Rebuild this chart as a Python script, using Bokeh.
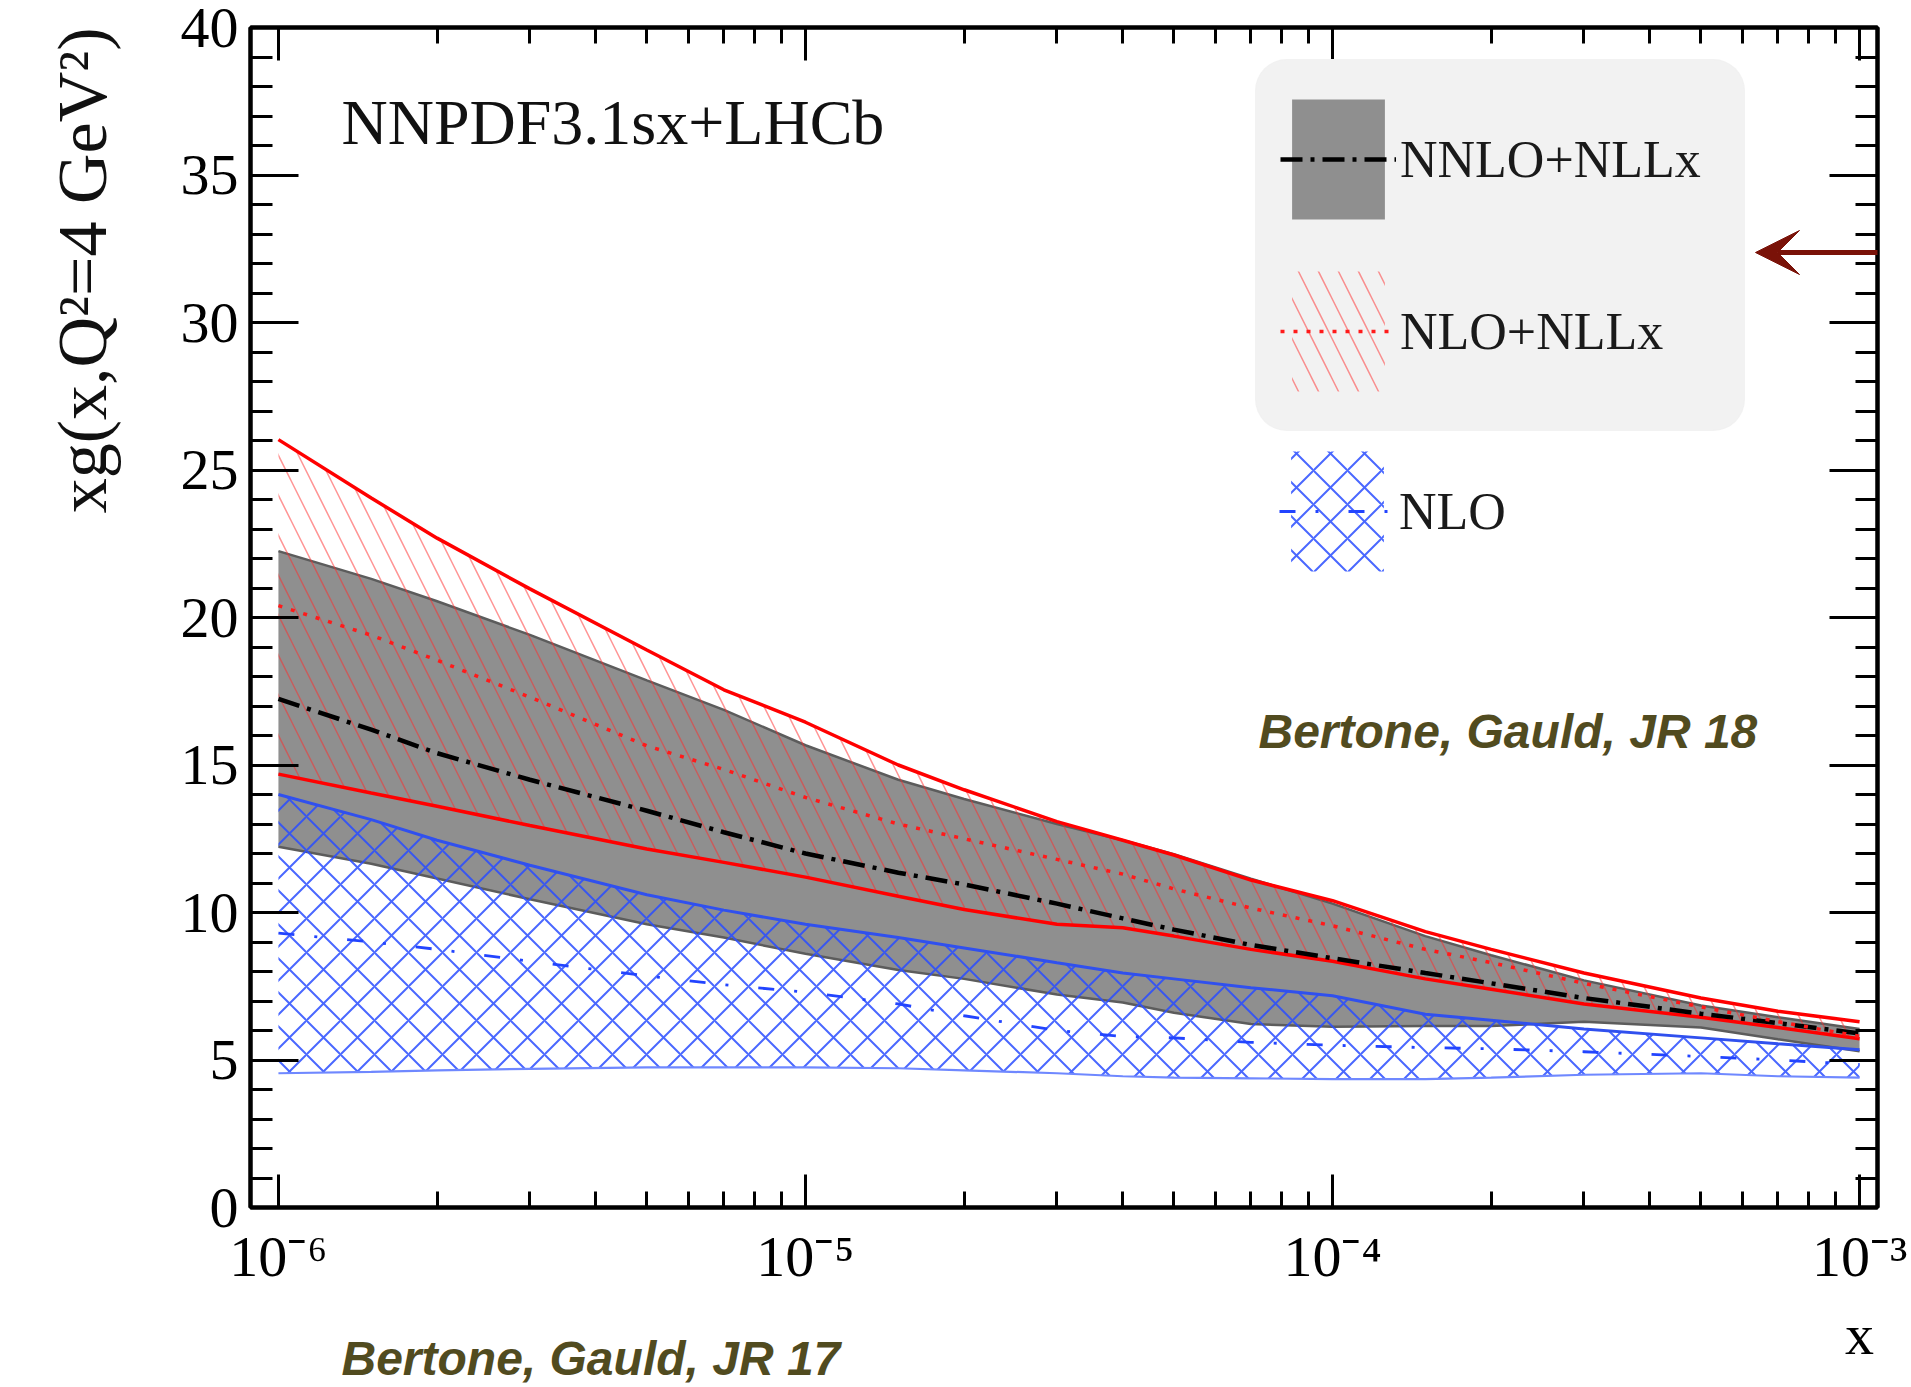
import math
from bokeh.plotting import figure
from bokeh.models import (Range1d, LinearAxis, LogAxis, FixedTicker, SingleIntervalTicker,
                          CustomJSTickFormatter, Label, Legend, LegendItem, Arrow, VeeHead, Title)
from bokeh.embed import file_html
from bokeh.resources import INLINE

# ---------------- data ----------------
x = [1e-6, 1.5e-6, 2e-6, 3e-6, 5e-6, 7e-6, 1e-5, 1.5e-5, 2e-5, 3e-5,
     4e-5, 5e-5, 7e-5, 1e-4, 1.5e-4, 2e-4, 3e-4, 5e-4, 7e-4, 1e-3]

# NNLO+NLLx (grey band, black dash-dot central)
nnlo_nllx_central = [17.24, 16.2, 15.4, 14.5, 13.45, 12.72, 12.0, 11.35, 10.95, 10.3,
                     9.8, 9.42, 8.9, 8.45, 7.95, 7.6, 7.1, 6.57, 6.25, 5.9]
nnlo_nllx_upper = [22.25, 21.31, 20.55, 19.41, 17.87, 16.87, 15.67, 14.5, 13.85, 13.0,
                   12.45, 11.98, 11.15, 10.3, 9.2, 8.55, 7.7, 6.85, 6.45, 6.05]
nnlo_nllx_lower = [12.23, 11.65, 11.15, 10.45, 9.6, 9.15, 8.6, 8.05, 7.75, 7.22,
                   6.95, 6.6, 6.22, 6.13, 6.15, 6.15, 6.3, 6.1, 5.7, 5.3]

# NLO+NLLx (red hatched band, red dotted central)
nlo_nllx_central = [20.4, 19.4, 18.55, 17.3, 15.65, 14.85, 13.9, 13.0, 12.5, 11.8,
                    11.3, 10.8, 10.15, 9.55, 8.75, 8.3, 7.6, 6.8, 6.3, 5.8]
nlo_nllx_upper = [26.03, 24.05, 22.69, 20.97, 18.9, 17.55, 16.45, 15.0, 14.16, 13.08,
                  12.45, 11.95, 11.1, 10.4, 9.35, 8.75, 7.95, 7.1, 6.65, 6.3]
nlo_nllx_lower = [14.69, 14.05, 13.6, 12.95, 12.15, 11.7, 11.2, 10.55, 10.1, 9.6,
                  9.48, 9.2, 8.75, 8.35, 7.75, 7.4, 6.9, 6.45, 6.1, 5.72]

# NLO (blue cross-hatched band, blue dash-dot-dot central)
nlo_central = [9.3, 9.0, 8.75, 8.35, 7.85, 7.55, 7.3, 6.9, 6.5, 6.0,
               5.8, 5.75, 5.6, 5.5, 5.42, 5.38, 5.28, 5.12, 5.0, 4.85]
nlo_upper = [14.0, 13.15, 12.45, 11.6, 10.6, 10.08, 9.6, 9.15, 8.8, 8.3,
             7.95, 7.75, 7.45, 7.18, 6.55, 6.35, 6.05, 5.75, 5.55, 5.35]
nlo_lower = [4.55, 4.6, 4.65, 4.7, 4.75, 4.75, 4.75, 4.72, 4.65, 4.55,
             4.45, 4.4, 4.38, 4.35, 4.35, 4.4, 4.5, 4.55, 4.45, 4.4]

x_major_ticks = [1e-6, 1e-5, 1e-4, 1e-3]
x_tick_exponents = [-6, -5, -4, -3]
x_tick_labels = ["10\u207b\u2076", "10\u207b\u2075", "10\u207b\u2074", "10\u207b\u00b3"]
x_axis_title = "x"
y_axis_title = "xg(x,Q\u00b2=4 GeV\u00b2)"
series_labels = ["NNLO+NLLx", "NLO+NLLx", "NLO"]

# ---------------- figure ----------------
SERIF = "Liberation Serif"
p = figure(width=1911, height=1387, x_axis_type="log",
           x_range=Range1d(10 ** -6.053, 10 ** -2.966), y_range=Range1d(0, 40),
           output_backend="svg", toolbar_location=None,
           min_border_left=250, min_border_right=34, min_border_top=27, min_border_bottom=180)
p.xgrid.visible = False
p.ygrid.visible = False
p.outline_line_color = "black"
p.outline_line_width = 4
p.background_fill_color = "white"
p.border_fill_color = "white"

x_minor_ticks = [m * d for d in x_major_ticks[:-1] for m in range(2, 10)]

# last major label carries the axis title "x" on a second line (right end, below)
fmt_x = CustomJSTickFormatter(
    args=dict(exps=x_tick_exponents, labels=x_tick_labels, title=x_axis_title),
    code="const i = exps.indexOf(Math.round(Math.log10(tick)));"
         "if (i < 0) return '';"
         "return i == labels.length - 1 ? labels[i] + '\\n' + title : labels[i];")
fmt_blank = CustomJSTickFormatter(code="return '';")


def style_x(ax, labelled):
    ax.ticker = FixedTicker(ticks=x_major_ticks, minor_ticks=x_minor_ticks)
    ax.major_tick_in = 33
    ax.major_tick_out = 0
    ax.minor_tick_in = 16
    ax.minor_tick_out = 0
    ax.major_tick_line_width = 3
    ax.minor_tick_line_width = 3
    ax.axis_line_width = 4
    if labelled:
        ax.formatter = fmt_x
        ax.major_label_text_font = SERIF
        ax.major_label_text_font_size = "58px"
        ax.major_label_text_color = "black"
        ax.major_label_standoff = 16
    else:
        ax.formatter = fmt_blank
        ax.major_label_text_font_size = "0px"
        ax.major_label_standoff = 0


def style_y(ax, labelled):
    ax.ticker = SingleIntervalTicker(interval=5, num_minor_ticks=5)
    ax.major_tick_in = 48
    ax.major_tick_out = 0
    ax.minor_tick_in = 22
    ax.minor_tick_out = 0
    ax.major_tick_line_width = 3
    ax.minor_tick_line_width = 3
    ax.axis_line_width = 4
    if labelled:
        ax.major_label_text_font = SERIF
        ax.major_label_text_font_size = "58px"
        ax.major_label_text_color = "black"
        ax.major_label_standoff = 12
    else:
        ax.formatter = fmt_blank
        ax.major_label_text_font_size = "0px"
        ax.major_label_standoff = 0


style_x(p.xaxis[0], True)
style_y(p.yaxis[0], True)
top_axis = LogAxis()
style_x(top_axis, False)
p.add_layout(top_axis, "above")
right_axis = LinearAxis()
style_y(right_axis, False)
p.add_layout(right_axis, "right")

# y axis title on a bare outer left axis, anchored toward the top end
title_axis = LinearAxis(ticker=FixedTicker(ticks=[]),
                        formatter=fmt_blank, axis_line_color=None,
                        major_tick_line_color=None, minor_tick_line_color=None,
                        major_tick_in=0, major_tick_out=0, minor_tick_in=0, minor_tick_out=0,
                        major_label_text_font_size="0px", major_label_standoff=0,
                        axis_label=y_axis_title, axis_label_standoff=95,
                        axis_label_text_font=SERIF, axis_label_text_font_style="normal",
                        axis_label_text_font_size="70px", axis_label_text_color="#111111")
title_axis.axis_label_orientation = math.pi / 2
try:
    title_axis.axis_label_align = "end"
except Exception:
    pass
p.add_layout(title_axis, "left")

# ---------------- bands and lines ----------------
grey_band = p.varea(x=x, y1=nnlo_nllx_lower, y2=nnlo_nllx_upper,
                    fill_color="#8f8f8f", fill_alpha=1.0)
p.line(x, nnlo_nllx_upper, line_color="#5c5c5c", line_width=2.5)
p.line(x, nnlo_nllx_lower, line_color="#5c5c5c", line_width=2.5)

blue_band = p.varea(x=x, y1=nlo_lower, y2=nlo_upper, fill_alpha=0,
                    hatch_pattern="x", hatch_color="#2a4dff", hatch_alpha=0.85,
                    hatch_weight=2.0, hatch_scale=34)
p.line(x, nlo_upper, line_color="#3050ee", line_width=3)
p.line(x, nlo_lower, line_color="#6f88ff", line_width=2.2)

red_band = p.varea(x=x, y1=nlo_nllx_lower, y2=nlo_nllx_upper, fill_alpha=0,
                   hatch_pattern="\\", hatch_color="#ff2a2a", hatch_alpha=0.5,
                   hatch_weight=1.5, hatch_scale=40)
p.line(x, nlo_nllx_upper, line_color="#ff0000", line_width=3.5)
p.line(x, nlo_nllx_lower, line_color="#ff0000", line_width=3.5)

black_c = p.line(x, nnlo_nllx_central, line_color="black", line_width=4.5,
                 line_dash="22 8 4 8")
red_c = p.line(x, nlo_nllx_central, line_color="#ff1a1a", line_width=3.5,
               line_dash="4 9")
blue_c = p.line(x, nlo_central, line_color="#2244ff", line_width=2.8,
                line_dash="16 20 3 30")

# ---------------- legends ----------------
common = dict(glyph_width=116, glyph_height=150, label_text_font=SERIF,
              label_text_font_size="52px", label_text_color="#1a1a1a",
              label_standoff=4, label_width=320, spacing=22, margin=0)
leg1 = Legend(items=[LegendItem(label=series_labels[0], renderers=[grey_band, black_c]),
                     LegendItem(label=series_labels[1], renderers=[red_band, red_c])],
              location=(1005, 776), padding=24, background_fill_color="#f2f2f2",
              background_fill_alpha=1.0, border_line_color="#f2f2f2",
              border_line_width=1, **common)
try:
    leg1.border_radius = 32
except Exception:
    pass
leg2 = Legend(items=[LegendItem(label=series_labels[2], renderers=[blue_band, blue_c])],
              location=(1029, 621), padding=0, background_fill_alpha=0.0,
              border_line_color=None, **common)
p.add_layout(leg1)
p.add_layout(leg2)

# ---------------- texts ----------------
p.add_layout(Label(x=91, y=1085, x_units="screen", y_units="screen", text="NNPDF3.1sx+LHCb",
                   text_font=SERIF, text_font_size="64px", text_color="#111111",
                   text_align="left", text_baseline="middle"))
olive = "#514b1f"
p.add_layout(Label(x=1008, y=476, x_units="screen", y_units="screen",
                   text="Bertone, Gauld, JR 18", text_font="Liberation Sans",
                   text_font_style="bold italic", text_font_size="48px", text_color=olive,
                   text_align="left", text_baseline="middle"))

jr17 = Title(text="Bertone, Gauld, JR 17", align="left", offset=91, vertical_align="top",
             text_font="Liberation Sans", text_font_style="bold italic",
             text_font_size="48px", text_color=olive)
try:
    jr17.standoff = -76
except Exception:
    pass
p.add_layout(jr17, "below")

arrow_color = "#7a1208"
p.add_layout(Arrow(end=VeeHead(size=44, fill_color=arrow_color, line_color=arrow_color),
                   x_start=1661, y_start=955, x_end=1505, y_end=955,
                   start_units="screen", end_units="screen",
                   line_color=arrow_color, line_width=5))

open("out.html", "w").write(file_html(p, INLINE))
